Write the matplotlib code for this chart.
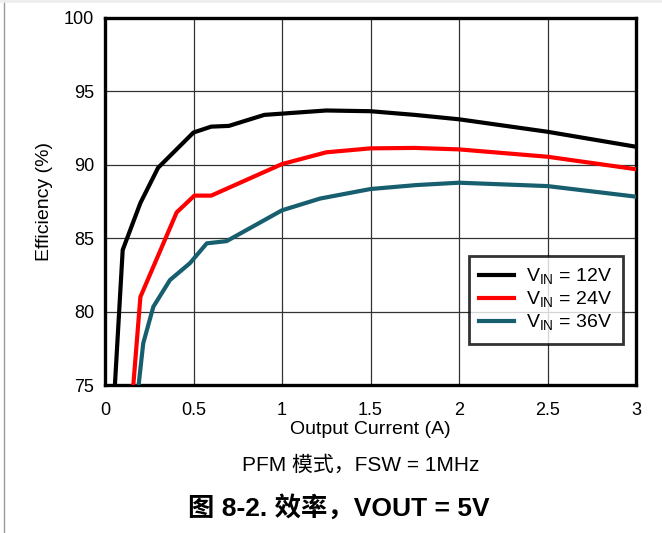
import matplotlib
matplotlib.use('Agg')
import matplotlib.pyplot as plt
from matplotlib.lines import Line2D
import numpy as np

# data
x12 = [0.056, 0.1, 0.2, 0.3, 0.5, 0.6, 0.7, 0.9, 1.25, 1.5, 1.75, 2.0, 2.5, 3.0]
y12 = [75.0, 84.2, 87.4, 89.8, 92.2, 92.6, 92.65, 93.4, 93.7, 93.65, 93.4, 93.1, 92.25, 91.23]
x24 = [0.16, 0.2, 0.405, 0.505, 0.6, 1.0, 1.25, 1.5, 1.75, 2.0, 2.5, 3.0]
y24 = [75.0, 81.0, 86.76, 87.9, 87.9, 90.05, 90.85, 91.12, 91.15, 91.05, 90.55, 89.7]
x36 = [0.19, 0.216, 0.273, 0.367, 0.48, 0.575, 0.687, 1.0, 1.215, 1.5, 1.76, 2.0, 2.5, 3.0]
y36 = [75.0, 77.84, 80.33, 82.15, 83.3, 84.65, 84.8, 86.9, 87.7, 88.35, 88.62, 88.78, 88.55, 87.83]
xticks = [0, 0.5, 1, 1.5, 2, 2.5, 3]
xticklabels = ['0', '0.5', '1', '1.5', '2', '2.5', '3']
yticks = [75, 80, 85, 90, 95, 100]

plt.rcParams['font.family'] = ['Liberation Sans', 'Noto Sans CJK SC']

fig = plt.figure(figsize=(6.62, 5.33), dpi=100)
ax = fig.add_axes([105/662, 1 - 385/533, 531/662, 367/533])

ax.plot(x12, y12, color='black', lw=3, label='V$_{\\mathregular{IN}}$ = 12V', zorder=3)
ax.plot(x24, y24, color='#ff0000', lw=3, label='V$_{\\mathregular{IN}}$ = 24V', zorder=3)
ax.plot(x36, y36, color='#175e6e', lw=3, label='V$_{\\mathregular{IN}}$ = 36V', zorder=3)

ax.set_xlim(0, 3)
ax.set_ylim(75, 100)
ax.set_xticks(xticks)
ax.set_xticklabels(xticklabels)
ax.set_yticks(yticks)
ax.tick_params(length=0, labelsize=13)
ax.tick_params(axis='x', pad=12)
ax.tick_params(axis='y', pad=8)
ax.grid(True, color='#333333', lw=0.9)
for s in ax.spines.values():
    s.set_linewidth(2.4)
ax.set_xlabel('Output Current (A)', fontsize=14, labelpad=2)
ax.set_ylabel('Efficiency (%)', fontsize=14, labelpad=8)

leg = ax.legend(loc='lower right', bbox_to_anchor=(0.9755, 0.112), borderaxespad=0,
                fontsize=14, frameon=True, fancybox=False, handlelength=1.8,
                handletextpad=0.6, borderpad=0.55, labelspacing=0.15)
leg.get_frame().set_edgecolor('black')
leg.get_frame().set_linewidth(2)

fig.text(361/662, 1 - 465/533, 'PFM 模式，FSW = 1MHz', ha='center', va='center', fontsize=15)
fig.text(339/662, 1 - 508/533, '图 8-2. 效率，VOUT = 5V', ha='center', va='center',
         fontsize=19, fontweight='bold')

# page border
fig.add_artist(Line2D([3.5/662, 3.5/662], [0, 1], color='#999999', lw=1))
fig.add_artist(Line2D([0, 1], [1 - 1/533, 1 - 1/533], color='#eeeeee', lw=2))

fig.savefig('out.png', dpi=100)
